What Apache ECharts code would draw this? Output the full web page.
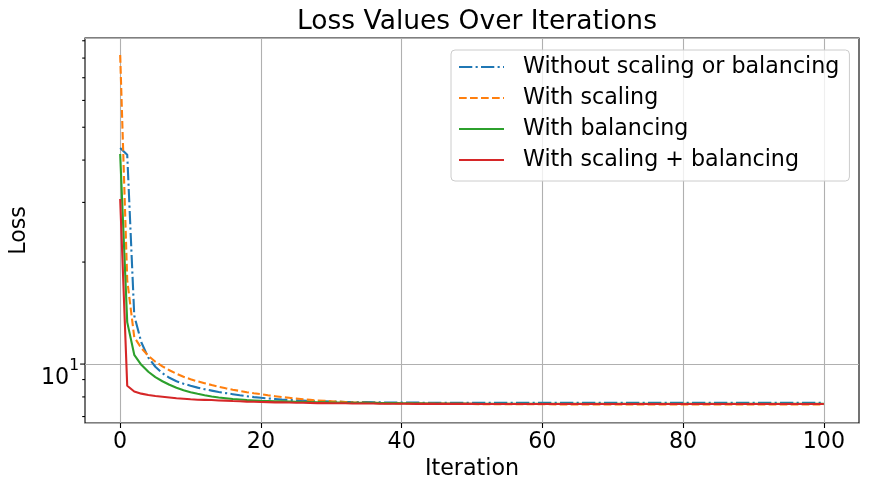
<!DOCTYPE html>
<html>
<head>
<meta charset="utf-8">
<script src="https://cdn.jsdelivr.net/npm/echarts@6/dist/echarts.min.js"></script>
<style>
  html, body { margin: 0; padding: 0; background: #fff; }
  #chart { width: 869px; height: 488px; }
</style>
</head>
<body>
<div id="chart"></div>
<script>
// values (log scale)
const seriesNames = ['Without scaling or balancing', 'With scaling', 'With balancing', 'With scaling + balancing'];

const lossPlain = [
  43.4, 41.5, 13.9, 11.6, 10.45, 9.82, 9.40, 9.11, 8.90, 8.75,
  8.63, 8.52, 8.43, 8.35, 8.27, 8.21, 8.15, 8.09, 8.04, 7.99,
  7.95, 7.92, 7.89, 7.86, 7.84, 7.82, 7.80, 7.78, 7.77, 7.76,
  7.75, 7.74, 7.73, 7.73, 7.72, 7.72, 7.71, 7.71, 7.70, 7.70,
  7.70, 7.70, 7.70, 7.69, 7.69, 7.69, 7.69, 7.69, 7.69, 7.69,
  7.69, 7.68, 7.68, 7.68, 7.68, 7.68, 7.68, 7.68, 7.68, 7.68,
  7.68, 7.68, 7.68, 7.68, 7.68, 7.68, 7.68, 7.68, 7.68, 7.68,
  7.68, 7.68, 7.68, 7.68, 7.68, 7.68, 7.68, 7.68, 7.68, 7.68,
  7.68, 7.68, 7.68, 7.68, 7.68, 7.68, 7.68, 7.68, 7.68, 7.68,
  7.68, 7.68, 7.68, 7.68, 7.68, 7.68, 7.68, 7.68, 7.68, 7.68,
  7.68
];

const lossScaling = [
  81.7, 17.7, 12.0, 11.15, 10.58, 10.16, 9.85, 9.59, 9.36, 9.17,
  9.02, 8.89, 8.78, 8.67, 8.57, 8.48, 8.40, 8.33, 8.26, 8.20,
  8.15, 8.09, 8.04, 7.99, 7.95, 7.91, 7.87, 7.84, 7.81, 7.79,
  7.77, 7.75, 7.73, 7.71, 7.70, 7.69, 7.68, 7.67, 7.66, 7.66,
  7.65, 7.65, 7.64, 7.64, 7.63, 7.63, 7.63, 7.62, 7.62, 7.62,
  7.62, 7.61, 7.61, 7.61, 7.61, 7.61, 7.61, 7.61, 7.61, 7.61,
  7.61, 7.61, 7.60, 7.60, 7.60, 7.60, 7.60, 7.60, 7.60, 7.60,
  7.60, 7.60, 7.60, 7.60, 7.60, 7.60, 7.60, 7.60, 7.60, 7.60,
  7.60, 7.60, 7.60, 7.60, 7.60, 7.60, 7.60, 7.60, 7.60, 7.60,
  7.60, 7.60, 7.60, 7.60, 7.60, 7.60, 7.60, 7.60, 7.60, 7.60,
  7.60
];

const lossBalancing = [
  41.7, 13.3, 10.65, 9.95, 9.49, 9.15, 8.90, 8.69, 8.51, 8.37,
  8.26, 8.17, 8.09, 8.02, 7.97, 7.93, 7.89, 7.86, 7.83, 7.81,
  7.79, 7.78, 7.77, 7.76, 7.75, 7.74, 7.73, 7.72, 7.71, 7.71,
  7.70, 7.70, 7.69, 7.69, 7.68, 7.68, 7.68, 7.67, 7.67, 7.67,
  7.66, 7.66, 7.66, 7.66, 7.65, 7.65, 7.65, 7.65, 7.65, 7.65,
  7.64, 7.64, 7.64, 7.64, 7.64, 7.64, 7.64, 7.64, 7.64, 7.64,
  7.64, 7.64, 7.64, 7.64, 7.64, 7.64, 7.64, 7.64, 7.64, 7.64,
  7.64, 7.64, 7.64, 7.64, 7.64, 7.64, 7.64, 7.64, 7.64, 7.64,
  7.64, 7.64, 7.64, 7.64, 7.64, 7.64, 7.64, 7.64, 7.64, 7.64,
  7.64, 7.64, 7.64, 7.64, 7.64, 7.64, 7.64, 7.64, 7.64, 7.64,
  7.64
];

const lossBoth = [
  30.7, 8.63, 8.30, 8.18, 8.10, 8.05, 8.01, 7.97, 7.93, 7.90,
  7.87, 7.85, 7.84, 7.83, 7.81, 7.80, 7.78, 7.77, 7.75, 7.74,
  7.73, 7.72, 7.71, 7.71, 7.70, 7.69, 7.69, 7.68, 7.67, 7.67,
  7.66, 7.66, 7.66, 7.65, 7.65, 7.65, 7.65, 7.64, 7.64, 7.64,
  7.64, 7.64, 7.63, 7.63, 7.63, 7.63, 7.63, 7.63, 7.63, 7.63,
  7.63, 7.62, 7.62, 7.62, 7.62, 7.62, 7.62, 7.62, 7.62, 7.62,
  7.62, 7.62, 7.62, 7.62, 7.62, 7.62, 7.62, 7.62, 7.62, 7.62,
  7.62, 7.62, 7.62, 7.62, 7.62, 7.62, 7.62, 7.62, 7.62, 7.62,
  7.62, 7.62, 7.62, 7.62, 7.62, 7.62, 7.62, 7.62, 7.62, 7.62,
  7.62, 7.62, 7.62, 7.62, 7.62, 7.62, 7.62, 7.62, 7.62, 7.62,
  7.62
];

const xTicks = [0, 20, 40, 60, 80, 100];
const yMajorTicks = [10];
const yMinorTicks = [7, 8, 9, 20, 30, 40, 50, 60, 70, 80, 90];

const X_MIN = -5, X_MAX = 105;
const Y_MIN = 6.70, Y_MAX = 91.7;

const FONT = 'DejaVu Sans';
const colors = ['#1f77b4', '#ff7f0e', '#2ca02c', '#d62728'];
const dashes = [[13.3, 3.3, 2.1, 3.3], [7.7, 3.3], 'solid', 'solid'];
const allLoss = [lossPlain, lossScaling, lossBalancing, lossBoth];

const chart = echarts.init(document.getElementById('chart'), null, { renderer: 'canvas' });

// y ticks of the log axis drawn as short lines left of the frame
function tickSeries(values, len) {
  return {
    type: 'custom',
    silent: true,
    clip: false,
    z: 5,
    data: values.map(v => [X_MIN, v]),
    encode: { x: 0, y: 1 },
    renderItem: (params, api) => {
      const p = api.coord([api.value(0), api.value(1)]);
      return {
        type: 'line',
        shape: { x1: p[0] - len, y1: p[1], x2: p[0], y2: p[1] },
        style: { stroke: '#000', lineWidth: 1.1 }
      };
    }
  };
}

const lineSeries = seriesNames.map((name, k) => ({
  name: name,
  type: 'line',
  data: allLoss[k].map((v, i) => [i, v]),
  symbol: 'none',
  showSymbol: false,
  animation: false,
  z: 3 + k,
  lineStyle: { color: colors[k], width: 2.1, type: dashes[k] },
  itemStyle: { color: colors[k] }
}));

const option = {
  animation: false,
  backgroundColor: '#fff',
  title: {
    text: 'Loss Values Over Iterations',
    left: 472,
    top: 4,
    textAlign: 'center',
    textStyle: { fontFamily: FONT, fontSize: 26.5, fontWeight: 'normal', color: '#000' }
  },
  legend: {
    data: seriesNames,
    orient: 'vertical',
    left: 451,
    top: 50,
    itemWidth: 45,
    itemHeight: 22,
    itemGap: 9,
    padding: [6, 10, 10, 7],
    backgroundColor: 'rgba(255,255,255,0.8)',
    borderColor: '#cccccc',
    borderWidth: 1,
    borderRadius: 4,
    itemStyle: { color: 'rgba(0,0,0,0)', borderWidth: 0, opacity: 0 },
    textStyle: { fontFamily: FONT, fontSize: 22.2, lineHeight: 22, color: '#000', padding: [0, 0, 0, 14] }
  },
  grid: {
    left: 85, right: 10, top: 38, bottom: 65,
    show: true,
    borderColor: '#000',
    borderWidth: 1.1,
    containLabel: false,
    outerBoundsMode: 'none'
  },
  xAxis: {
    type: 'value',
    min: X_MIN,
    max: X_MAX,
    name: 'Iteration',
    nameLocation: 'middle',
    nameGap: 31,
    nameTextStyle: { fontFamily: FONT, fontSize: 22.2, color: '#000' },
    axisLine: { show: false },
    axisTick: { show: true, length: 5, customValues: xTicks, lineStyle: { color: '#000', width: 1.1 } },
    axisLabel: { customValues: xTicks, fontFamily: FONT, fontSize: 22.2, color: '#000', margin: 8 },
    splitLine: { show: true, lineStyle: { color: '#b0b0b0', width: 1.1 } }
  },
  yAxis: {
    type: 'log',
    logBase: 10,
    min: Y_MIN,
    max: Y_MAX,
    name: 'Loss',
    nameLocation: 'middle',
    nameGap: 49,
    nameTextStyle: { fontFamily: FONT, fontSize: 22.2, color: '#000' },
    axisLine: { show: false },
    axisTick: { show: false },
    axisLabel: {
      showMinLabel: false,
      showMaxLabel: false,
      margin: 6,
      padding: [28, 0, 0, 0],
      formatter: v => (yMajorTicks.some(t => Math.abs(Math.log10(v) - Math.log10(t)) < 1e-6) ? '{b|10}{s|1}' : ''),
      rich: {
        b: { fontFamily: FONT, fontSize: 22.2, lineHeight: 40, color: '#000' },
        s: { fontFamily: FONT, fontSize: 15.5, lineHeight: 15, verticalAlign: 'top', color: '#000' }
      }
    },
    splitLine: { show: true, lineStyle: { color: '#b0b0b0', width: 1.1 } }
  },
  series: lineSeries.concat([tickSeries(yMinorTicks, 2.8), tickSeries(yMajorTicks, 4.9)])
};

chart.setOption(option);
</script>
</body>
</html>
